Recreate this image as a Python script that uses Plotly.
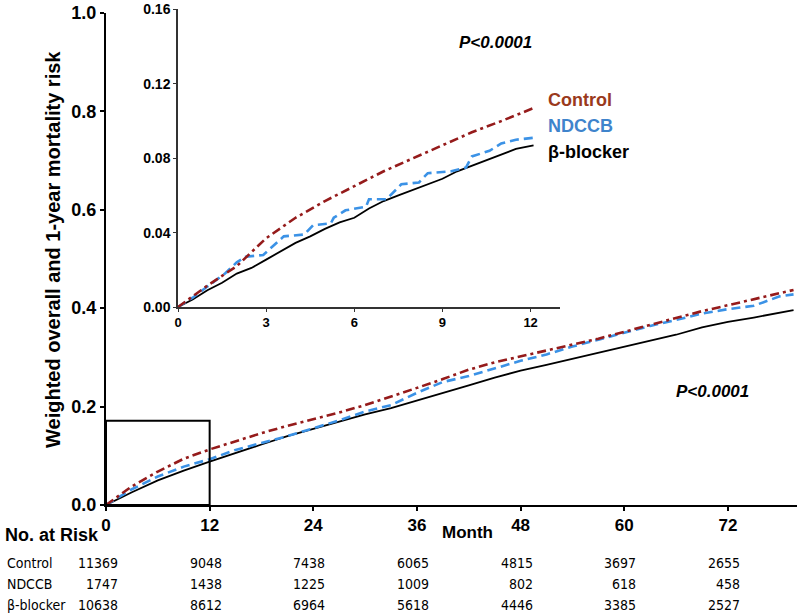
import plotly.graph_objects as go

# ---------------- data ----------------
groups = ["Control", "NDCCB", "β-blocker"]

# overall (main panel) cumulative mortality
overall_months = [0, 3, 6, 9, 12, 15, 18, 21, 24, 27, 30, 33, 36, 39, 42, 45, 48,
                  51, 54, 57, 60, 63, 66, 69, 72, 75, 78, 79.6]
overall_control = [0, 0.038, 0.068, 0.094, 0.113, 0.130, 0.146, 0.161, 0.174, 0.188,
                   0.203, 0.220, 0.238, 0.256, 0.275, 0.290, 0.302, 0.313, 0.325,
                   0.338, 0.352, 0.366, 0.380, 0.394, 0.406, 0.418, 0.430, 0.437]
overall_ndccb = [0, 0.032, 0.058, 0.078, 0.093, 0.112, 0.126, 0.140, 0.156, 0.172,
                 0.190, 0.203, 0.228, 0.250, 0.262, 0.278, 0.293, 0.306, 0.322,
                 0.336, 0.350, 0.364, 0.376, 0.389, 0.398, 0.405, 0.424, 0.428]
overall_bblocker = [0, 0.026, 0.050, 0.070, 0.088, 0.106, 0.123, 0.140, 0.155, 0.170,
                    0.184, 0.197, 0.212, 0.227, 0.243, 0.259, 0.273, 0.285, 0.297,
                    0.309, 0.321, 0.333, 0.346, 0.361, 0.372, 0.381, 0.391, 0.396]

# 1-year (inset) cumulative mortality
inset_months_control = [0, 1, 2, 3, 4, 5, 6, 7, 8, 9, 10, 11, 12.1]
inset_control = [0, 0.0115, 0.022, 0.037, 0.048, 0.057, 0.065, 0.073, 0.080,
                 0.087, 0.094, 0.100, 0.107]
inset_months_ndccb = [0, 0.5, 1.0, 1.6, 2.0, 2.3, 2.9, 3.3, 3.6, 4.3, 4.6, 5.2, 5.3,
                      5.7, 6.4, 6.5, 7.1, 7.6, 8.2, 8.5, 9.3, 9.8, 10.0, 10.6, 11.0,
                      11.5, 12.1]
inset_ndccb = [0, 0.005, 0.011, 0.018, 0.024, 0.027, 0.028, 0.034, 0.038, 0.039,
               0.044, 0.045, 0.048, 0.052, 0.054, 0.058, 0.058, 0.066, 0.067, 0.072,
               0.073, 0.075, 0.081, 0.084, 0.088, 0.090, 0.091]
inset_months_bblocker = [0, 0.5, 1, 1.5, 2, 2.5, 3, 3.5, 4, 4.5, 5, 5.5, 6, 6.5, 7,
                         7.5, 8, 8.5, 9, 9.5, 10, 10.5, 11, 11.5, 12.1]
inset_bblocker = [0, 0.004, 0.009, 0.013, 0.018, 0.021, 0.0255, 0.030, 0.0345, 0.038,
                  0.042, 0.0455, 0.048, 0.053, 0.057, 0.060, 0.063, 0.066, 0.069,
                  0.073, 0.076, 0.079, 0.082, 0.085, 0.087]

# number at risk table
risk_months = [0, 12, 24, 36, 48, 60, 72]
risk_control = [11369, 9048, 7438, 6065, 4815, 3697, 2655]
risk_ndccb = [1747, 1438, 1225, 1009, 802, 618, 458]
risk_bblocker = [10638, 8612, 6964, 5618, 4446, 3385, 2527]

main_xticks = [0, 12, 24, 36, 48, 60, 72]
main_yticks = [0.0, 0.2, 0.4, 0.6, 0.8, 1.0]
inset_xticks = [0, 3, 6, 9, 12]
inset_yticks = [0.00, 0.04, 0.08, 0.12, 0.16]

# ---------------- styles ----------------
W, H = 800, 616
ML, MR, MT, MB = 106, 3, 8, 111
PW, PH = W - ML - MR, H - MT - MB
BOTTOM_PX = H - MB  # 505

def xp(px):
    return (px - ML) / PW

def yp(py):
    return (BOTTOM_PX - py) / PH

FONT = "Liberation Sans, Arial, sans-serif"
NARROW = "DejaVu Sans Condensed, Liberation Sans Narrow, Arial Narrow, sans-serif"
C_CONTROL = "#951b1b"
C_NDCCB = "#3b92e6"
C_BB = "#000000"
styles = {
    "Control": dict(color=C_CONTROL, width=2.6, dash="9px,4px,3px,4px"),
    "NDCCB": dict(color=C_NDCCB, width=2.6, dash="9px,5px"),
    "β-blocker": dict(color=C_BB, width=1.8),
}

fig = go.Figure()

main_series = {"Control": overall_control, "NDCCB": overall_ndccb, "β-blocker": overall_bblocker}
for g in ["β-blocker", "NDCCB", "Control"]:
    fig.add_trace(go.Scatter(x=overall_months, y=main_series[g], mode="lines", name=g,
                             line=styles[g], showlegend=False, xaxis="x", yaxis="y"))

inset_series = {
    "Control": (inset_months_control, inset_control),
    "NDCCB": (inset_months_ndccb, inset_ndccb),
    "β-blocker": (inset_months_bblocker, inset_bblocker),
}
for g in ["β-blocker", "NDCCB", "Control"]:
    mx, vy = inset_series[g]
    fig.add_trace(go.Scatter(x=mx, y=vy, mode="lines", name=g, line=styles[g],
                             showlegend=False, xaxis="x2", yaxis="y2"))

main_dom_top = (BOTTOM_PX - 12.7) / PH
inset_top = (BOTTOM_PX - 9) / PH
fig.update_layout(
    width=W, height=H,
    margin=dict(l=ML, r=MR, t=MT, b=MB, autoexpand=False),
    paper_bgcolor="white", plot_bgcolor="white",
    font=dict(family=FONT, color="black"),
    xaxis=dict(domain=[0, 1], range=[0, 80], tickvals=main_xticks,
               ticktext=[str(v) for v in main_xticks],
               showline=True, linecolor="black", linewidth=2, showgrid=False, zeroline=False,
               ticks="outside", ticklen=4, tickwidth=1.5, tickcolor="black",
               tickfont=dict(size=17, family=FONT, weight="bold"), anchor="y"),
    yaxis=dict(domain=[0, main_dom_top], range=[0, 1.0005], tickvals=main_yticks,
               ticktext=[f"{v:.1f}" for v in main_yticks],
               showline=True, linecolor="black", linewidth=2, showgrid=False, zeroline=False,
               ticks="outside", ticklen=4, tickwidth=1.5, tickcolor="black",
               tickfont=dict(size=18, family=FONT, weight="bold"), anchor="x"),
    xaxis2=dict(domain=[xp(178), xp(560)], range=[0, 13], tickvals=inset_xticks,
                ticktext=[str(v) for v in inset_xticks],
                showline=True, linecolor="#333", linewidth=1.5, showgrid=False, zeroline=False,
                ticks="outside", ticklen=3, tickwidth=1, tickcolor="#333",
                tickfont=dict(size=13, family=FONT, weight="bold"), anchor="y2"),
    yaxis2=dict(domain=[yp(307), inset_top], range=[0, 0.1603], tickvals=inset_yticks,
                ticktext=[f"{v:.2f}" for v in inset_yticks],
                showline=True, linecolor="#333", linewidth=1.5, showgrid=False, zeroline=False,
                ticks="outside", ticklen=3, tickwidth=1, tickcolor="#333",
                tickfont=dict(size=14, family=FONT, weight="bold"), anchor="x2"),
)

# zoom box on main panel
fig.add_shape(type="rect", xref="x", yref="y", x0=0, y0=0, x1=12, y1=0.171,
              line=dict(color="black", width=2))

ann = []
# y-axis title
ann.append(dict(text="<b>Weighted overall and 1-year mortality risk</b>", textangle=-90,
                xref="paper", yref="paper", x=xp(53), y=yp(250), showarrow=False,
                font=dict(size=20, family=FONT), xanchor="center", yanchor="middle"))
# Month label
ann.append(dict(text="<b>Month</b>", xref="paper", yref="paper", x=xp(468), y=yp(532),
                showarrow=False, font=dict(size=17, family=FONT), xanchor="center", yanchor="middle"))
# P values
ann.append(dict(text="<b><i>P<0.0001</i></b>", xref="paper", yref="paper", x=xp(495), y=yp(42),
                showarrow=False, font=dict(size=17, family=FONT), xanchor="center", yanchor="middle"))
ann.append(dict(text="<b><i>P<0.0001</i></b>", xref="paper", yref="paper", x=xp(712), y=yp(391),
                showarrow=False, font=dict(size=17, family=FONT), xanchor="center", yanchor="middle"))
# group labels in inset
label_colors = {"Control": "#9a3a1c", "NDCCB": "#3f84cc", "β-blocker": "#000000"}
for g, py in zip(groups, [100, 126, 152]):
    ann.append(dict(text=f"<b>{g}</b>", xref="paper", yref="paper", x=xp(546), y=yp(py),
                    showarrow=False, font=dict(size=18, family=FONT, color=label_colors[g]),
                    xanchor="left", yanchor="middle"))
# number at risk
ann.append(dict(text="<b>No. at Risk</b>", xref="paper", yref="paper", x=xp(3), y=yp(535),
                showarrow=False, font=dict(size=18, family=FONT), xanchor="left", yanchor="middle"))
risk_rows = {"Control": risk_control, "NDCCB": risk_ndccb, "β-blocker": risk_bblocker}
for g, py in zip(groups, [563, 584, 605]):
    ann.append(dict(text=g, xref="paper", yref="paper", x=xp(5), y=yp(py), showarrow=False,
                    font=dict(size=14, family=NARROW), xanchor="left", yanchor="middle"))
    for m, n in zip(risk_months, risk_rows[g]):
        ann.append(dict(text=str(n), xref="x", yref="paper", x=m, xshift=14, y=yp(py),
                        showarrow=False, font=dict(size=14, family=NARROW),
                        xanchor="right", yanchor="middle"))
fig.update_layout(annotations=ann)

fig.write_html("out.html", config={"displayModeBar": False},
               post_script="document.body.style.margin='0';")
